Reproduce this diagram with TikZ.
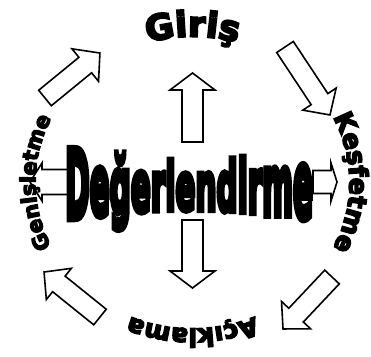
\documentclass[tikz,border=0pt]{standalone}
\usepackage{fontspec}
\usepackage{graphicx}
\usetikzlibrary{decorations.text,calc}
\newfontfamily\heavy[FakeBold=6]{DejaVu Sans Bold}
\newfontfamily\heavier[FakeBold=9]{DejaVu Sans Bold}
\newcommand{\blockarrow}[7]{%
  \begin{scope}[shift={(#1,#2)},rotate=#3]
    \draw[arrowshape] (0,-#5) -- ({#4-#7},-#5) -- ({#4-#7},-#6) -- (#4,0)
      -- ({#4-#7},#6) -- ({#4-#7},#5) -- (0,#5) -- cycle;
  \end{scope}}
\newcommand{\wl}[3]{\raisebox{#1pt}{\scalebox{1}[#2]{#3}}}
\tikzset{
  arrowshape/.style={draw=black, fill=white, line width=1.6pt, line join=miter},
  ringtext/.style={decorate, decoration={text along path, text align=center, text={#1}}}
}
\begin{document}
\begin{tikzpicture}[x=1pt,y=1pt]
\useasboundingbox[fill=white] (0,0) rectangle (371,356);
\coordinate (c) at (192.5,173.5);
% block arrows: x y angle length shaft-half head-half head-length
\blockarrow{192.5}{214}{90}{69}{10.5}{22.5}{17}
\blockarrow{192.5}{136}{-90}{68}{10.5}{22.5}{17}
\blockarrow{72}{174}{180}{42}{12.5}{19}{12}
\blockarrow{313}{174}{0}{24}{11.5}{19}{6}
\blockarrow{45}{258}{39.3}{71}{10}{21}{19}
\blockarrow{285}{309}{-56.5}{81.5}{10}{20}{19}
\blockarrow{332}{79}{-133.3}{71.4}{10}{20}{19}
\blockarrow{100}{39}{141.2}{71.8}{10}{20}{19}
% centre word
\node[anchor=base west, inner sep=0pt] (title) at (65,136)
  {\heavier\fontsize{29.5}{30}\selectfont
   \wl{1.9}{3.21}{D}\wl{4.8}{2.86}{e}\wl{6.9}{2.61}{ğ}\wl{8.5}{2.41}{e}%
   \wl{9.4}{2.31}{r}\wl{9.8}{2.26}{l}\wl{10}{2.23}{e}\wl{9.8}{2.26}{n}%
   \wl{9.1}{2.34}{d}\wl{8.2}{2.45}{i}\wl{7.2}{2.57}{r}\wl{5.0}{2.84}{m}%
   \wl{2.1}{3.19}{e}};
% ring texts
\path[ringtext={|\heavy\fontsize{35}{35}\selectfont|Giriş}]
  ($(c)+(130:157pt and 146pt)$) arc[start angle=130,end angle=50,x radius=157pt,y radius=146pt];
\path[ringtext={|\heavy\fontsize{25.5}{25.5}\selectfont|Keşfetme}]
  ($(c)+(40:157pt and 146pt)$) arc[start angle=40,end angle=-40,x radius=157pt,y radius=146pt];
\path[ringtext={|\heavy\fontsize{25}{25}\selectfont|Açıklama}]
  ($(c)+(-50:157pt and 146pt)$) arc[start angle=-50,end angle=-130,x radius=157pt,y radius=146pt];
\path[ringtext={|\heavy\fontsize{21}{21}\selectfont|Genişletme}]
  ($(c)+(220:157pt and 146pt)$) arc[start angle=220,end angle=140,x radius=157pt,y radius=146pt];
\end{tikzpicture}
\end{document}
